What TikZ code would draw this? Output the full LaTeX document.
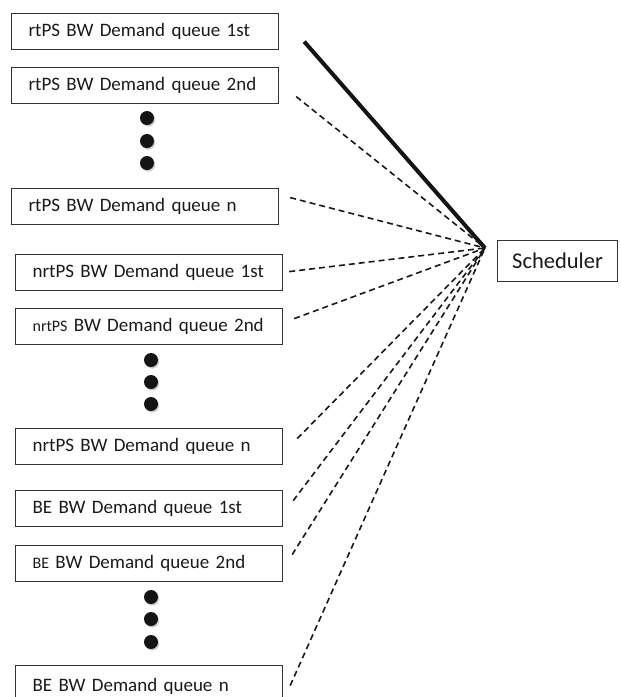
\documentclass[tikz,border=0pt]{standalone}
\usepackage{fontspec}
\setmainfont{Carlito}
\usepackage{xcolor}
\usetikzlibrary{positioning,shadows}
\definecolor{boxline}{HTML}{333333}
\definecolor{boxtext}{HTML}{1A1A1A}

\begin{document}
\begin{tikzpicture}[x=1pt, y=-1pt,
  queue/.style={draw=boxline, line width=1.2pt, anchor=north west, minimum height=36pt, text width=233pt, inner xsep=17pt, inner ysep=0pt, align=left, text=boxtext, font=\fontsize{19}{21}\selectfont},
  sched/.style={draw=boxline, line width=1.2pt, anchor=north west, minimum width=120pt, minimum height=41pt, text=boxtext, font=\fontsize{22.5}{24}\selectfont},
  dot/.style={circle, fill=black!92, inner sep=0pt, minimum size=14pt, drop shadow={shadow xshift=1.2pt, shadow yshift=-1.6pt, fill=black!45, opacity=.45}},
  link/.style={draw=black!90, line width=1.6pt, dash pattern=on 6pt off 4pt},
  mainlink/.style={draw=black!92, line width=4pt}
]
\useasboundingbox (0,0) rectangle (621,697);

% rtPS queues
\node[queue] (rt1) at (11,13) {rtPS BW Demand queue 1st};
\node[queue] (rt2) at (11,67) {rtPS BW Demand queue 2nd};
\node[dot] (rtd1) at (147,118) {};
\node[dot] (rtd2) at (147,141) {};
\node[dot] (rtd3) at (147,163) {};
\node[queue] (rtn) at (11,188) {rtPS BW Demand queue n};

% nrtPS queues
\node[queue] (nrt1) at (15,254) {nrtPS BW Demand queue 1st};
\node[queue] (nrt2) at (15,308) {{\fontsize{16}{18}\selectfont nrtPS} BW Demand queue 2nd};
\node[dot] (nrtd1) at (151,360) {};
\node[dot] (nrtd2) at (151,382) {};
\node[dot] (nrtd3) at (151,404) {};
\node[queue] (nrtn) at (15,428) {nrtPS BW Demand queue n};

% BE queues
\node[queue] (be1) at (15,490) {BE BW Demand queue 1st};
\node[queue] (be2) at (15,545) {{\fontsize{16}{18}\selectfont BE} BW Demand queue 2nd};
\node[dot] (bed1) at (151,597) {};
\node[dot] (bed2) at (151,619) {};
\node[dot] (bed3) at (151,642) {};
\node[queue, minimum height=42pt] (ben) at (15,665) {BE BW Demand queue n};

% Scheduler
\node[sched] (sched) at (497,240) {Scheduler};
\coordinate (hub) at ([shift={(-12,8)}]sched.north west);

% Links into the scheduler
\draw[mainlink] ([shift={(25,10)}]rt1.east) -- (hub);
\draw[link] ([shift={(17,11)}]rt2.east) -- (hub);
\draw[link] ([shift={(11,-9)}]rtn.east) -- (hub);
\draw[link] ([shift={(6,-1)}]nrt1.east) -- (hub);
\draw[link] ([shift={(11,-8)}]nrt2.east) -- (hub);
\draw[link] ([shift={(14,-8)}]nrtn.east) -- (hub);
\draw[link] ([shift={(10,-8)}]be1.east) -- (hub);
\draw[link] ([shift={(9,-9)}]be2.east) -- (hub);
\draw[link] ([shift={(7,-1)}]ben.east) -- (hub);

\end{tikzpicture}
\end{document}
